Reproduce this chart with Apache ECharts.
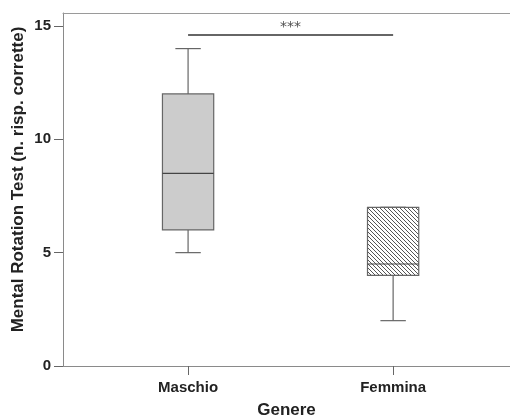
<!DOCTYPE html>
<html>
<head>
<meta charset="utf-8">
<script src="https://cdn.jsdelivr.net/npm/echarts@6/dist/echarts.min.js"></script>
<style>
  html, body { margin: 0; padding: 0; background: #fff; }
  #chart { width: 510px; height: 416px; }
</style>
</head>
<body>
<div id="chart"></div>
<script>
// dati
var categories = ['Maschio', 'Femmina'];
var catPos = [1, 2];
var lowVals = [5, 2];
var q1Vals = [6, 4];
var medVals = [8.5, 4.5];
var q3Vals = [12, 7];
var highVals = [14, 7];
var yTicks = [0, 5, 10, 15];
var sigLevel = 14.6;
var sigText = '***';

// tratteggio per la scatola "Femmina"
function hatch() {
    var c = document.createElement('canvas');
    c.width = 4; c.height = 4;
    var ctx = c.getContext('2d');
    ctx.fillStyle = '#fff';
    ctx.fillRect(0, 0, 4, 4);
    ctx.strokeStyle = '#555';
    ctx.lineWidth = 1;
    ctx.beginPath();
    ctx.moveTo(-1, -1); ctx.lineTo(5, 5);
    ctx.moveTo(-1, 3); ctx.lineTo(1, 5);
    ctx.moveTo(3, -1); ctx.lineTo(5, 1);
    ctx.stroke();
    return c;
}
var fills = ['#cccccc', { image: hatch(), repeat: 'repeat' }];

var boxData = categories.map(function (c, i) {
    return [catPos[i], lowVals[i], q1Vals[i], medVals[i], q3Vals[i], highVals[i]];
});

var font = 'Liberation Sans, Arial';
var myChart = echarts.init(document.getElementById('chart'));

var option = {
    animation: false,
    grid: {
        left: 63, right: 0, top: 13, bottom: 50,
        containLabel: false, outerBoundsMode: 'none'
    },
    xAxis: [{
        type: 'value',
        min: 0.39, max: 2.57,
        splitLine: { show: false },
        axisLine: { show: true, lineStyle: { color: '#8a8a8a' } },
        axisTick: { show: true, length: 9, customValues: catPos, lineStyle: { color: '#666' } },
        axisLabel: {
            customValues: catPos,
            margin: 14,
            color: '#222', fontSize: 15, fontWeight: 'bold', fontFamily: font,
            formatter: function (v) { return categories[catPos.indexOf(v)] || ''; }
        },
        name: 'Genere',
        nameLocation: 'middle',
        nameGap: 36,
        nameMoveOverlap: false,
        nameTextStyle: { color: '#222', fontSize: 17, fontWeight: 'bold', fontFamily: font }
    }, {
        // linea superiore della cornice
        type: 'value',
        position: 'top',
        min: 0.39, max: 2.57,
        splitLine: { show: false },
        axisLine: { show: true, lineStyle: { color: '#9a9a9a' } },
        axisTick: { show: false },
        axisLabel: { show: false }
    }],
    yAxis: {
        type: 'value',
        min: 0, max: 15.57,
        splitLine: { show: false },
        axisLine: { show: true, lineStyle: { color: '#8a8a8a' } },
        axisTick: { show: true, length: 9, customValues: yTicks, lineStyle: { color: '#666' } },
        axisLabel: {
            customValues: yTicks,
            margin: 12,
            color: '#222', fontSize: 15, fontWeight: 'bold', fontFamily: font
        },
        name: 'Mental Rotation Test (n. risp. corrette)',
        nameLocation: 'middle',
        nameGap: 36,
        nameMoveOverlap: false,
        nameTextStyle: { color: '#222', fontSize: 17, fontWeight: 'bold', fontFamily: font, padding: [0, 0, 0, 20] }
    },
    series: [
        {
            type: 'custom',
            data: boxData,
            renderItem: function (params, api) {
                var i = params.dataIndex;
                var x = api.value(0);
                var low = api.coord([x, api.value(1)]);
                var q1 = api.coord([x, api.value(2)]);
                var med = api.coord([x, api.value(3)]);
                var q3 = api.coord([x, api.value(4)]);
                var high = api.coord([x, api.value(5)]);
                var half = api.size([0.125, 0])[0];
                var cap = api.size([0.062, 0])[0];
                var ln = { stroke: '#666', lineWidth: 1.2 };
                return {
                    type: 'group',
                    children: [
                        { type: 'line', shape: { x1: low[0], y1: low[1], x2: q1[0], y2: q1[1] }, style: ln },
                        { type: 'line', shape: { x1: q3[0], y1: q3[1], x2: high[0], y2: high[1] }, style: ln },
                        { type: 'line', shape: { x1: low[0] - cap, y1: low[1], x2: low[0] + cap, y2: low[1] }, style: ln },
                        { type: 'line', shape: { x1: high[0] - cap, y1: high[1], x2: high[0] + cap, y2: high[1] }, style: ln },
                        { type: 'rect', shape: { x: q3[0] - half, y: q3[1], width: half * 2, height: q1[1] - q3[1] },
                          style: { fill: fills[i], stroke: '#666', lineWidth: 1.2 } },
                        { type: 'line', shape: { x1: med[0] - half, y1: med[1], x2: med[0] + half, y2: med[1] },
                          style: { stroke: '#444', lineWidth: 1.2 } }
                    ]
                };
            }
        },
        {
            type: 'line',
            data: [[catPos[0], sigLevel], [catPos[1], sigLevel]],
            symbol: 'none',
            lineStyle: { color: '#333', width: 1.5 },
            silent: true
        },
        {
            type: 'scatter',
            data: [[(catPos[0] + catPos[1]) / 2, sigLevel]],
            symbolSize: 0,
            silent: true,
            label: {
                show: true, position: 'top', distance: 1,
                formatter: sigText, color: '#222', fontSize: 14, fontFamily: 'DejaVu Sans'
            }
        }
    ]
};
myChart.setOption(option);
</script>
</body>
</html>
